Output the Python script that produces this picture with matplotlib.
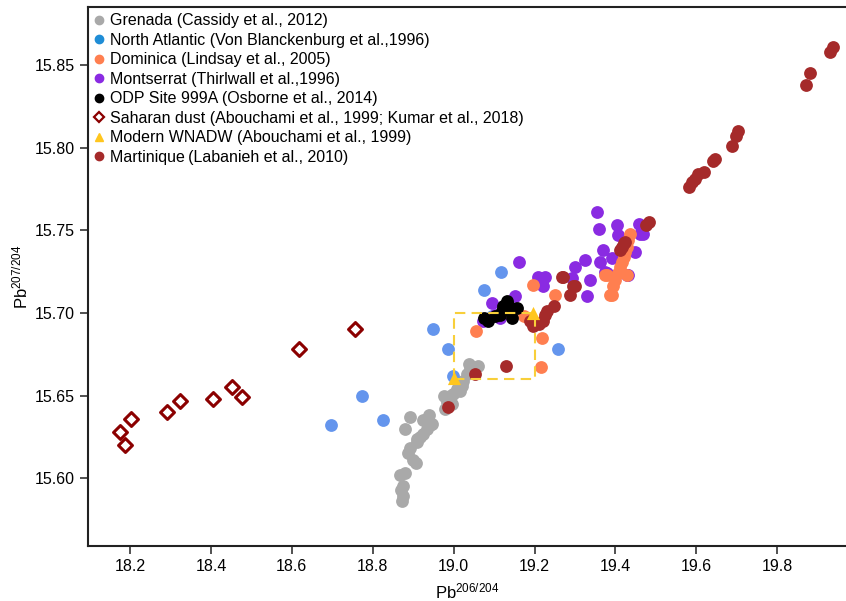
import matplotlib.pyplot as plt
from matplotlib.lines import Line2D
from matplotlib.patches import Rectangle

plt.rcParams['font.family'] = ['Liberation Sans', 'DejaVu Sans']
plt.rcParams['mathtext.fontset'] = 'custom'
plt.rcParams['mathtext.rm'] = 'Liberation Sans'
plt.rcParams['mathtext.it'] = 'Liberation Sans'

# Grenada (Cassidy et al., 2012)
grenada_x = [18.869, 18.874, 18.872, 18.876, 18.880, 18.868, 18.888, 18.900, 18.906, 18.892,
             18.909, 18.917, 18.924, 18.909, 18.934, 18.942, 18.938, 18.925, 18.946, 18.880,
             18.892, 18.979, 18.983, 18.991, 18.999, 18.975, 19.008, 19.020, 19.024, 19.033,
             19.041, 19.037, 19.016, 18.996, 19.050, 19.060]
grenada_y = [15.593, 15.589, 15.586, 15.595, 15.603, 15.602, 15.615, 15.611, 15.609, 15.618,
             15.624, 15.625, 15.627, 15.622, 15.630, 15.632, 15.638, 15.635, 15.633, 15.630,
             15.637, 15.642, 15.646, 15.650, 15.651, 15.650, 15.654, 15.656, 15.659, 15.663,
             15.667, 15.669, 15.653, 15.645, 15.666, 15.668]

# North Atlantic (Von Blanckenburg et al., 1996)
natl_x = [18.697, 18.773, 18.826, 18.949, 18.987, 18.999, 19.075, 19.096, 19.117, 19.258]
natl_y = [15.632, 15.650, 15.635, 15.690, 15.678, 15.662, 15.714, 15.698, 15.725, 15.678]

# Dominica (Lindsay et al., 2005)
dom_x = [19.056, 19.174, 19.195, 19.218, 19.216, 19.251, 19.374, 19.379, 19.387, 19.391,
         19.395, 19.399, 19.407, 19.412, 19.416, 19.420, 19.424, 19.428, 19.432, 19.436, 19.428]
dom_y = [15.689, 15.698, 15.717, 15.685, 15.667, 15.711, 15.723, 15.723, 15.711, 15.711,
         15.716, 15.720, 15.724, 15.728, 15.731, 15.734, 15.737, 15.740, 15.744, 15.748, 15.723]

# Montserrat (Thirlwall et al., 1996)
mont_x = [19.072, 19.096, 19.103, 19.115, 19.152, 19.162, 19.208, 19.226, 19.222, 19.292,
          19.300, 19.325, 19.329, 19.337, 19.354, 19.360, 19.363, 19.370, 19.375, 19.379,
          19.391, 19.403, 19.407, 19.428, 19.432, 19.449, 19.457, 19.461, 19.469]
mont_y = [15.695, 15.706, 15.699, 15.697, 15.710, 15.731, 15.722, 15.722, 15.716, 15.721,
          15.728, 15.732, 15.710, 15.720, 15.761, 15.751, 15.731, 15.738, 15.725, 15.724,
          15.733, 15.753, 15.747, 15.723, 15.723, 15.737, 15.754, 15.748, 15.748]

# ODP Site 999A (Osborne et al., 2014)
odp_x = [19.074, 19.086, 19.103, 19.115, 19.119, 19.123, 19.131, 19.135, 19.140, 19.144, 19.156]
odp_y = [15.697, 15.695, 15.698, 15.699, 15.701, 15.704, 15.707, 15.705, 15.703, 15.697, 15.703]

# Saharan dust (Abouchami et al., 1999; Kumar et al., 2018)
dust_x = [18.174, 18.188, 18.202, 18.291, 18.324, 18.404, 18.453, 18.476, 18.617, 18.756]
dust_y = [15.628, 15.620, 15.636, 15.640, 15.647, 15.648, 15.655, 15.649, 15.678, 15.690]

# Modern WNADW (Abouchami et al., 1999)
wnadw_x = [19.0, 19.197]
wnadw_y = [15.6605, 15.700]

# Martinique (Labanieh et al., 2010)
mart_x = [18.987, 19.053, 19.130, 19.189, 19.197, 19.210, 19.222, 19.226, 19.230, 19.247,
          19.268, 19.271, 19.288, 19.296, 19.300, 19.412, 19.416, 19.420, 19.424, 19.476,
          19.482, 19.583, 19.589, 19.597, 19.605, 19.618, 19.642, 19.646, 19.688, 19.697,
          19.703, 19.870, 19.880, 19.930, 19.938]
mart_y = [15.643, 15.663, 15.668, 15.695, 15.692, 15.693, 15.695, 15.699, 15.701, 15.704,
          15.722, 15.722, 15.711, 15.716, 15.716, 15.738, 15.740, 15.742, 15.743, 15.753,
          15.755, 15.776, 15.779, 15.781, 15.784, 15.785, 15.792, 15.793, 15.801, 15.807,
          15.810, 15.838, 15.845, 15.858, 15.861]

labels = ['Grenada (Cassidy et al., 2012)',
          'North Atlantic (Von Blanckenburg et al.,1996)',
          'Dominica (Lindsay et al., 2005)',
          'Montserrat (Thirlwall et al.,1996)',
          'ODP Site 999A (Osborne et al., 2014)',
          'Saharan dust (Abouchami et al., 1999; Kumar et al., 2018)',
          'Modern WNADW (Abouchami et al., 1999)',
          'Martinique\u2009(Labanieh et al., 2010)']

fig = plt.figure(figsize=(8.46, 6.01), dpi=100)
ax = fig.add_axes([88/846, 55/601, 1 - 88/846, 539/601])

s = 85
ax.scatter(grenada_x, grenada_y, s=s, color='#a9a9a9', lw=0, zorder=2)
ax.scatter(natl_x, natl_y, s=s, color='#6495ed', lw=0, zorder=2)
ax.scatter(mont_x, mont_y, s=s, color='#8a2be2', lw=0, zorder=3)
ax.scatter(dom_x, dom_y, s=s, color='#ff7f50', lw=0, zorder=3)
ax.scatter(odp_x, odp_y, s=s, color='black', lw=0, zorder=4)
ax.scatter(mart_x, mart_y, s=s, color='#a52a2a', lw=0, zorder=4)
ax.scatter(dust_x, dust_y, s=50, marker='D', facecolor='white', edgecolor='#8b0000', lw=2.2, zorder=3)
ax.scatter(wnadw_x, wnadw_y, s=90, marker='^', color='#ffc61e', lw=0, zorder=6)

ax.add_patch(Rectangle((19.0, 15.66), 0.2, 0.04, fill=False, ec='#f8cf3a',
                       lw=1.5, ls=(0, (5, 3)), zorder=5))

ax.set_xlim(18.096, 19.97)
ax.set_ylim(15.559, 15.885)
ax.set_xticks([18.2, 18.4, 18.6, 18.8, 19.0, 19.2, 19.4, 19.6, 19.8])
ax.set_xticklabels(['18.2', '18.4', '18.6', '18.8', '19.0', '19.2', '19.4', '19.6', '19.8'])
ax.set_yticks([15.60, 15.65, 15.70, 15.75, 15.80, 15.85])
ax.set_yticklabels(['15.60', '15.65', '15.70', '15.75', '15.80', '15.85'])
ax.tick_params(labelsize=11.5, width=1.2, length=6, color='#333333')
for sp in ['left', 'bottom', 'top']:
    ax.spines[sp].set_linewidth(1.5)
    ax.spines[sp].set_color('#222222')
ax.spines['right'].set_visible(False)

ax.set_xlabel(r'Pb$^{206/204}$', fontsize=12, labelpad=5)
ax.set_ylabel(r'Pb$^{207/204}$', fontsize=12, labelpad=3)

handles = [
    Line2D([], [], ls='', marker='o', ms=6, color='#a9a9a9'),
    Line2D([], [], ls='', marker='o', ms=6, color='#1f8dd6'),
    Line2D([], [], ls='', marker='o', ms=6, color='#ff7f50'),
    Line2D([], [], ls='', marker='o', ms=6, color='#8a2be2'),
    Line2D([], [], ls='', marker='o', ms=6, color='black'),
    Line2D([], [], ls='', marker='D', ms=5, mfc='white', mec='#8b0000', mew=1.6),
    Line2D([], [], ls='', marker='^', ms=6, color='#ffc61e'),
    Line2D([], [], ls='', marker='o', ms=6, color='#a52a2a'),
]
ax.legend(handles, labels, loc='upper left', frameon=False, fontsize=11.5,
          handlelength=0.6, handletextpad=0.35, labelspacing=0.28,
          borderaxespad=0.0, bbox_to_anchor=(0.0, 1.0))

fig.savefig('out.png', dpi=100)
